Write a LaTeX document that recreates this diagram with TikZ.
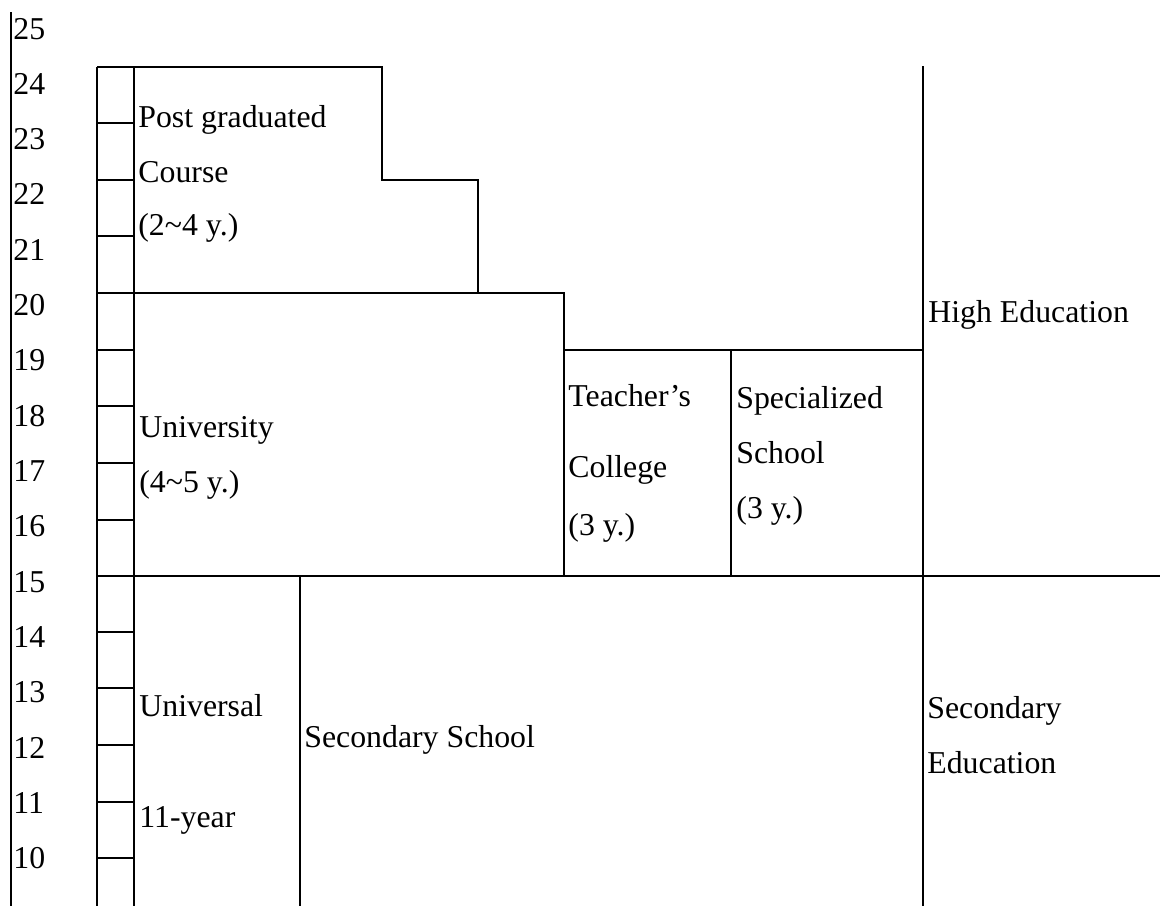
\documentclass[tikz,border=0pt]{standalone}
\usepackage{fontspec}
\setmainfont{Liberation Serif}
\usetikzlibrary{positioning}

\begin{document}
\begin{tikzpicture}[x=0.5pt,y=-0.5pt,ln/.style={line width=1pt},
     lbl/.style={anchor=base west, inner sep=0pt, font=\fontsize{15.9}{18}\selectfont},yr/.style={lbl}]
     \useasboundingbox (0,0) rectangle (1160,906);
     % age axis
     \draw [ln] (11,12) -- (11,906);
     \foreach \n in {10,...,25} \node (y\n) [yr] at (13,{39+(25-\n)*55.33}) {\n};
     % year column
     \draw [ln] (97,67) -- (97,906);\draw [ln] (134,67) -- (134,906);
     \foreach \t in {67,123,180,236,293,350,406,463,520,576,632,688,745,802,858} \draw [ln] (97,\t) -- (134,\t);
     % high education blocks
     \draw [ln] (134,67) -- (382,67) -- (382,180) -- (478,180) -- (478,293);
     \draw [ln] (134,293) -- (564,293) -- (564,350) -- (923,350);
     \draw [ln] (564,350) -- (564,576);\draw [ln] (731,350) -- (731,576);
     \draw [ln] (97,576) -- (1160,576);\draw [ln] (923,66) -- (923,906);
     % secondary blocks
     \draw [ln] (300,576) -- (300,906);
     % labels
     \node (pg1) [lbl] at (138,127) {Post graduated};\node (pg2) [lbl] at (138,182) {Course};
     \node (pg3) [lbl] at (138,235) {(2\textasciitilde4 y.)};
     \node (un1) [lbl] at (139,437) {University};\node (un2) [lbl] at (139,492) {(4\textasciitilde5 y.)};
     \node (tc1) [lbl] at (568,406) {Teacher’s};\node (tc2) [lbl] at (568,477) {College};
     \node (tc3) [lbl] at (568,535) {(3 y.)};
     \node (sp1) [lbl] at (736,408) {Specialized};\node (sp2) [lbl] at (736,463) {School};
     \node (sp3) [lbl] at (736,518) {(3 y.)};
     \node (high) [lbl] at (928,322) {High Education};
     \node (uv1) [lbl] at (139,716) {Universal};\node (uv2) [lbl] at (139,827) {11-year};
     \node (sec) [lbl] at (304,747) {Secondary School};
     \node (se1) [lbl] at (927,718) {Secondary};\node (se2) [lbl] at (927,773) {Education};
\end{tikzpicture}
\end{document}
